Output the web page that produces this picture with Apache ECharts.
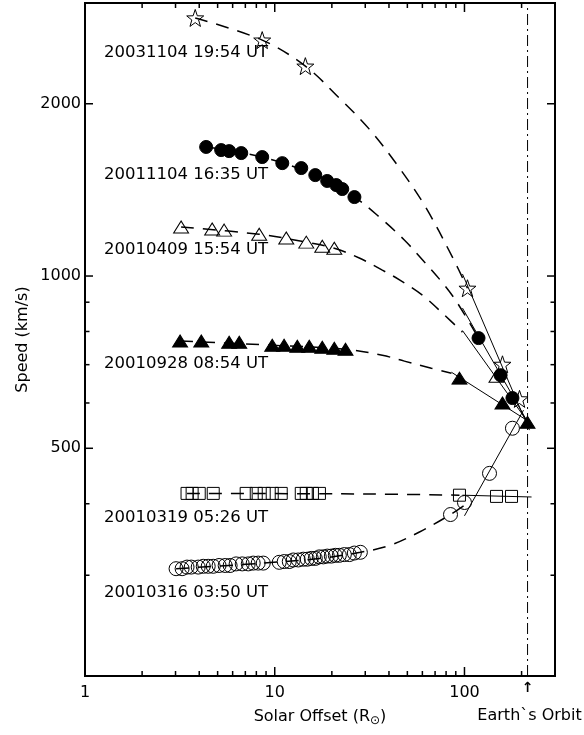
<!DOCTYPE html>
<html>
<head>
<meta charset="utf-8">
<script src="https://cdn.jsdelivr.net/npm/echarts@6.0.0/dist/echarts.min.js"></script>
<style>
  html, body { margin: 0; padding: 0; background: #fff; }
  #chart { width: 584px; height: 735px; }
</style>
</head>
<body>
<div id="chart"></div>
<script>
// ---------- axis ticks ----------
const xTickLabels = [1, 10, 100];
const xMinorTicks = [2, 3, 4, 5, 6, 7, 8, 9, 20, 30, 40, 50, 60, 70, 80, 90, 200];
const yTickLabels = [500, 1000, 2000];
const yMinorTicks = [300, 400, 600, 700, 800, 900];
const earthOrbit = 215;

// ---------- 20031104 19:54 UT (open stars) ----------
const starNear = [[3.81, 2825], [8.59, 2584], [14.5, 2327]];
const starFar = [[103.7, 952], [158.6, 701], [195, 610]];
const starFit = [[3.81, 2825], [8.59, 2584], [14.5, 2327], [21.9, 2046], [31.5, 1806],
                 [44.3, 1562], [61.5, 1330], [86.4, 1079], [103.7, 952]];
const starTail = [[97.6, 1008], [220, 538]];

// ---------- 20011104 16:35 UT (filled circles) ----------
const dotNear = [[4.35, 1681], [5.22, 1660], [5.75, 1653], [6.66, 1640], [8.59, 1614], [10.96, 1575],
                 [13.8, 1544], [16.36, 1501], [18.9, 1466], [21.1, 1442], [22.7, 1419], [26.3, 1374]];
const dotFar = [[118.6, 779], [155, 671], [179, 612]];
const dotFit = [[4.35, 1681], [8.59, 1614], [16.36, 1501], [26.3, 1374], [35.6, 1268],
                [48.2, 1156], [61.5, 1058], [78.4, 964], [91.8, 897], [118.6, 779]];
const dotTail = [[97.6, 879], [212.4, 560]];

// ---------- 20010409 15:54 UT (open triangles) ----------
const triNear = [[3.21, 1218], [4.68, 1208], [5.41, 1203], [8.28, 1183], [11.5, 1165],
                 [14.66, 1146], [17.8, 1127], [20.6, 1118]];
const triFar = [[147.5, 668]];
const triFit = [[3.21, 1218], [8.28, 1183], [14.66, 1146], [20.6, 1118], [27.9, 1075],
                [36.9, 1024], [45.9, 983], [60.0, 926], [77.5, 858], [97.6, 798]];
const triTail = [[97.6, 803], [212.4, 560]];

// ---------- 20010928 08:54 UT (filled triangles) ----------
const ftriNear = [[3.17, 770], [4.10, 770], [5.75, 766], [6.50, 766], [9.70, 757], [11.2, 757],
                  [13.15, 754], [15.2, 754], [17.8, 751], [20.6, 748], [23.6, 745]];
const ftriFar = [[94.1, 663], [158.6, 600], [215, 555]];
const ftriFit = [[3.17, 770], [9.70, 757], [23.6, 745], [36.9, 727], [48.2, 710], [66.9, 690], [85.4, 676]];
const ftriTail = [[85.4, 679], [212.4, 560]];

// ---------- 20010319 05:26 UT (open squares) ----------
const sqNear = [[3.45, 417], [3.67, 417], [4.0, 417], [4.74, 417], [7.07, 417], [7.99, 417], [8.80, 417],
                [9.70, 417], [10.82, 417], [13.8, 417], [14.66, 417], [15.8, 417], [17.2, 417]];
const sqFar = [[94.1, 414], [147.5, 412], [177, 412]];
const sqFit = [[3.45, 417], [30, 416], [94.1, 414]];
const sqTail = [[97.6, 414], [225.7, 411]];

// ---------- 20010316 03:50 UT (open circles) ----------
const ringNear = [[3.02, 308], [3.25, 308], [3.45, 310], [3.63, 310], [3.95, 310], [4.20, 311], [4.46, 311],
                  [4.74, 311], [5.09, 312], [5.48, 312], [5.82, 312], [6.26, 314], [6.74, 314], [7.25, 314],
                  [7.70, 315], [8.18, 315], [8.70, 315], [10.56, 316], [11.22, 317], [11.93, 317], [12.52, 319],
                  [13.30, 319], [14.14, 320], [14.84, 320], [15.58, 321], [16.36, 321], [17.17, 323], [18.03, 323],
                  [18.92, 324], [19.87, 324], [20.86, 325], [21.90, 325], [23.27, 326], [24.73, 326],
                  [26.27, 328], [28.27, 329]];
const ringFar = [[84.4, 383], [100, 402], [135.5, 452], [179, 542]];
const ringFit = [[3.02, 308], [8.70, 315], [17.17, 321], [28.27, 329], [40.2, 338], [57.9, 357],
                 [84.4, 383], [103.7, 401]];
const ringTail = [[100, 381], [204.8, 583]];

const eventLabels = ['20031104 19:54 UT', '20011104 16:35 UT', '20010409 15:54 UT',
                     '20010928 08:54 UT', '20010319 05:26 UT', '20010316 03:50 UT'];

// ---------- styling ----------
const FAMILY = 'DejaVu Sans';
const FONT = '16px "DejaVu Sans"';
const LABEL_FONT = '16.5px "DejaVu Sans"';
const STAR = 'path://M10 0 L12.35 6.76 L19.51 6.91 L13.80 11.24 L15.88 18.09 L10 14 L4.12 18.09 L6.20 11.24 L0.49 6.91 L7.65 6.76 Z';

const events = [
  { near: starNear, far: starFar, fit: starFit, tail: starTail, symbol: STAR, size: 17, filled: false },
  { near: dotNear, far: dotFar, fit: dotFit, tail: dotTail, symbol: 'circle', size: 13, filled: true },
  { near: triNear, far: triFar, fit: triFit, tail: triTail, symbol: 'triangle', size: [15, 12], filled: false },
  { near: ftriNear, far: ftriFar, fit: ftriFit, tail: ftriTail, symbol: 'triangle', size: [15, 12], filled: true },
  { near: sqNear, far: sqFar, fit: sqFit, tail: sqTail, symbol: 'rect', size: 12, filled: false },
  { near: ringNear, far: ringFar, fit: ringFit, tail: ringTail, symbol: 'circle', size: 14, filled: false }
];

const series = [];

// dash-dot line marking Earth's orbit
series.push({
  type: 'line', data: [[earthOrbit, 200], [earthOrbit, 3000]], showSymbol: false, silent: true, z: 1,
  lineStyle: { color: '#000', width: 1, type: [11, 4, 2, 4] }
});

events.forEach(ev => {
  series.push({
    type: 'line', data: ev.fit, smooth: 0.35, showSymbol: false, silent: true, z: 2,
    lineStyle: { color: '#000', width: 1.5, type: [13, 9] }
  });
  series.push({
    type: 'line', data: ev.tail, showSymbol: false, silent: true, z: 2,
    lineStyle: { color: '#000', width: 1 }
  });
  const itemStyle = ev.filled
    ? { color: '#000', borderColor: '#000', borderWidth: 1, opacity: 1 }
    : { color: 'rgba(0,0,0,0)', borderColor: '#000', borderWidth: 1, opacity: 1 };
  [ev.near, ev.far].forEach(pts => {
    series.push({
      type: 'scatter', data: pts, symbol: ev.symbol, symbolSize: ev.size, silent: true, z: 3,
      itemStyle: itemStyle
    });
  });
});

// tick marks on all four sides + tick labels
const xTicks = xTickLabels.map(v => [v, 1000, 1]).concat(xMinorTicks.map(v => [v, 1000, 0]));
const yTicks = yTickLabels.map(v => [1, v, 1]).concat(yMinorTicks.map(v => [1, v, 0]));
const tickStyle = { stroke: '#000', lineWidth: 1.5 };

series.push({
  type: 'custom', data: xTicks, encode: { x: 0, y: 1 }, silent: true, clip: false, z: 5,
  renderItem(params, api) {
    const cs = params.coordSys;
    const x = api.coord([api.value(0), 1000])[0];
    const major = api.value(2) === 1;
    const len = major ? 9 : 5;
    const bottom = cs.y + cs.height;
    const kids = [
      { type: 'line', shape: { x1: x, y1: bottom, x2: x, y2: bottom - len }, style: tickStyle },
      { type: 'line', shape: { x1: x, y1: cs.y, x2: x, y2: cs.y + len }, style: tickStyle }
    ];
    if (major) {
      kids.push({ type: 'text', x: x, y: bottom + 17,
        style: { text: String(api.value(0)), font: FONT, fill: '#000', align: 'center', verticalAlign: 'middle' } });
    }
    return { type: 'group', children: kids };
  }
});

series.push({
  type: 'custom', data: yTicks, encode: { x: 0, y: 1 }, silent: true, clip: false, z: 5,
  renderItem(params, api) {
    const cs = params.coordSys;
    const y = api.coord([1, api.value(1)])[1];
    const major = api.value(2) === 1;
    const len = major ? 8 : 4.5;
    const right = cs.x + cs.width;
    const kids = [
      { type: 'line', shape: { x1: cs.x, y1: y, x2: cs.x + len, y2: y }, style: tickStyle },
      { type: 'line', shape: { x1: right, y1: y, x2: right - len, y2: y }, style: tickStyle }
    ];
    if (major) {
      kids.push({ type: 'text', x: cs.x - 4, y: y,
        style: { text: String(api.value(1)), font: FONT, fill: '#000', align: 'right', verticalAlign: 'middle' } });
    }
    return { type: 'group', children: kids };
  }
});

// "Earth`s Orbit" marker below the axis
series.push({
  type: 'custom', data: [[earthOrbit, 1000]], encode: { x: 0, y: 1 }, silent: true, clip: false, z: 5,
  renderItem(params, api) {
    const cs = params.coordSys;
    const x = api.coord([api.value(0), 1000])[0];
    const bottom = cs.y + cs.height;
    return { type: 'group', children: [
      { type: 'text', x: x, y: bottom + 12,
        style: { text: '↑', font: 'bold 14px "DejaVu Sans"', fill: '#000', align: 'center', verticalAlign: 'middle' } },
      { type: 'text', x: x + 2, y: bottom + 40,
        style: { text: 'Earth`s Orbit', font: FONT, fill: '#000', align: 'center', verticalAlign: 'middle' } }
    ] };
  }
});

const labelRows = [53, 175, 250, 364, 518, 593];

const option = {
  animation: false,
  backgroundColor: '#fff',
  grid: { left: 85, top: 3, right: 29, bottom: 59, show: true, borderColor: '#000', borderWidth: 2, backgroundColor: 'transparent' },
  xAxis: {
    type: 'log', logBase: 10, min: 1, max: 300,
    axisLine: { show: false }, axisTick: { show: false }, axisLabel: { show: false }, splitLine: { show: false },
    name: '{t|Solar Offset (R}{s|⊙}{t|)}', nameLocation: 'middle', nameGap: 30,
    nameTextStyle: { rich: {
      t: { fontFamily: FAMILY, fontSize: 16, color: '#000' },
      s: { fontFamily: FAMILY, fontSize: 12, color: '#000', padding: [9, 0, 0, 0] }
    } }
  },
  yAxis: {
    type: 'log', logBase: 10, min: 200, max: 3000,
    axisLine: { show: false }, axisTick: { show: false }, axisLabel: { show: false }, splitLine: { show: false },
    name: 'Speed (km/s)', nameLocation: 'middle', nameGap: 54, nameRotate: 90,
    nameTextStyle: { fontFamily: FAMILY, fontSize: 16, color: '#000' }
  },
  graphic: eventLabels.map((t, i) => ({
    type: 'text', x: 104, y: labelRows[i], silent: true,
    style: { text: t, font: LABEL_FONT, fill: '#000', verticalAlign: 'middle' }
  })),
  series: series
};

const chart = echarts.init(document.getElementById('chart'), null, { renderer: 'canvas' });
chart.setOption(option);
</script>
</body>
</html>
